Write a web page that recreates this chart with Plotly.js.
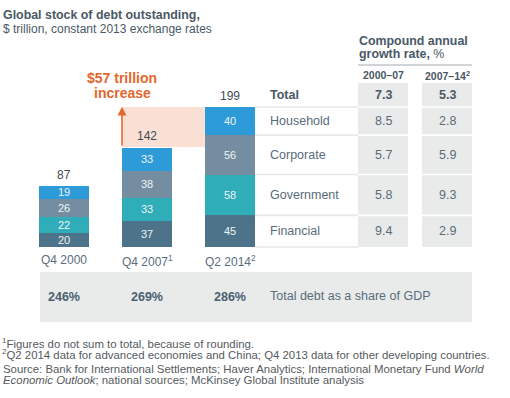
<!DOCTYPE html>
<html>
<head>
<meta charset="utf-8">
<script src="https://cdn.plot.ly/plotly-3.0.1.min.js"></script>
<style>html,body{margin:0;padding:0;background:#fff;}#chart{width:510px;height:398px;}</style>
</head>
<body>
<div id="chart"></div>
<script>
// ---------- DATA ----------
const categories = ['Q4 2000', 'Q4 2007', 'Q2 2014'];
const categoryNotes = ['', '1', '2'];
const financial = [20, 37, 45];
const government = [22, 33, 58];
const corporate = [26, 38, 56];
const household = [19, 33, 40];
const totals = [87, 142, 199];
const gdpShare = [246, 269, 286];
const rowLabels = ['Total', 'Household', 'Corporate', 'Government', 'Financial'];
const cagr2000to07 = [7.3, 8.5, 5.7, 5.8, 9.4];
const cagr2007to14 = [5.3, 2.8, 5.9, 9.3, 2.9];
const periodLabels = ['2000–07', '2007–14<sup>2</sup>'];
const increaseLabel = ['$57 trillion', 'increase'];
const footnotes = [
  '<sup>1</sup>Figures do not sum to total, because of rounding.',
  '<sup>2</sup>Q2 2014 data for advanced economies and China; Q4 2013 data for other developing countries.'
];
const sourceLines = [
  'Source: Bank for International Settlements; Haver Analytics; International Monetary Fund <i>World</i>',
  '<i>Economic Outlook</i>; national sources; McKinsey Global Institute analysis'
];

// ---------- LAYOUT HELPERS ----------
const W = 510, H = 398;
const FONT = 'Liberation Sans, Arial, Helvetica, sans-serif';
const px = x => x / W;
const py = y => 1 - y / H;
const K = 0.7035;           // px per data unit
const BASE = 247;           // pixel row of zero
const CAT0 = 64, CATSTEP = 83;
const BW = 50 / CATSTEP;    // bar width in category units
const yAt = p => (BASE - p) / K;

const series = {Financial: financial, Government: government, Corporate: corporate, Household: household};
const colors = {Household: '#2D9BD7', Corporate: '#748DA0', Government: '#2FADB8', Financial: '#4C7389'};
const stackOrder = ['Financial', 'Government', 'Corporate', 'Household'];

const traces = stackOrder.map(s => ({
  type: 'bar', name: s, x: categories, y: series[s], width: BW,
  marker: {color: colors[s], line: {width: 0}},
  text: series[s].map(String), texttemplate: '%{text}', textposition: 'inside',
  insidetextanchor: 'middle', constraintext: 'none',
  textfont: {family: FONT, size: 11, color: '#eef3f6'},
  hoverinfo: 'skip', showlegend: false
}));

const last = categories.length - 1;
const bounds = [0];
stackOrder.forEach(s => bounds.push(bounds[bounds.length - 1] + series[s][last]));
const mid = {};
stackOrder.forEach((s, i) => { mid[s] = (bounds[i] + bounds[i + 1]) / 2; });
const colTop = yAt(83);
mid['Total'] = (bounds[bounds.length - 1] + colTop) / 2;

const shapes = [];
const annotations = [];
const tx = (x, y, text, opts) => annotations.push(Object.assign({
  x: x, y: y, xref: 'paper', yref: 'paper', text: text, showarrow: false,
  xanchor: 'left', yanchor: 'middle', font: {family: FONT, size: 12, color: '#4a5866'}
}, opts || {}));

// titles
tx(px(1), py(15), '<b>Global stock of debt outstanding,</b>', {font: {family: FONT, size: 12.4, color: '#4a5866'}});
tx(px(1), py(29), '$ trillion, constant 2013 exchange rates', {font: {family: FONT, size: 12, color: '#4a5866'}});

// pink increase band + arrow
const x2left = 1 - BW / 2, x3left = 2 - BW / 2;
shapes.push({type: 'rect', xref: 'x', yref: 'y', x0: x2left, x1: x3left, y0: totals[1], y1: totals[2],
  fillcolor: '#F9DFD4', line: {width: 0}, layer: 'below'});
annotations.push({xref: 'x', yref: 'y', axref: 'x', ayref: 'y', x: x2left, y: totals[2] + 0.5,
  ax: x2left, ay: totals[1], text: '', showarrow: true, arrowhead: 2, arrowsize: 1.1,
  arrowwidth: 1.6, arrowcolor: '#E3672C', standoff: 0, startstandoff: 0});
tx(px(122), py(78), '<b>' + increaseLabel[0] + '</b>', {xanchor: 'center', font: {family: FONT, size: 14, color: '#E3672C'}});
tx(px(122), py(93), '<b>' + increaseLabel[1] + '</b>', {xanchor: 'center', font: {family: FONT, size: 14, color: '#E3672C'}});

// totals above bars and category labels
categories.forEach((c, i) => {
  annotations.push({xref: 'x', yref: 'y', x: i, y: totals[i], yanchor: 'bottom', yshift: 2,
    text: String(totals[i]), showarrow: false, font: {family: FONT, size: 12, color: '#3f4a52'}});
  annotations.push({xref: 'x', yref: 'y', x: i, y: 0, yanchor: 'top', yshift: -4,
    text: c + (categoryNotes[i] ? '<sup>' + categoryNotes[i] + '</sup>' : ''), showarrow: false,
    font: {family: FONT, size: 12, color: '#5a6d7d'}});
});

// table
const col1 = [358, 408], col2 = [422, 472];
[col1, col2].forEach(c => shapes.push({type: 'rect', xref: 'paper', yref: 'y', x0: px(c[0]), x1: px(c[1]),
  y0: 0, y1: colTop, fillcolor: '#E9EBEB', line: {width: 0}, layer: 'below'}));
bounds.forEach(b => {
  shapes.push({type: 'line', xref: 'paper', yref: 'y', x0: px(255), x1: px(358), y0: b, y1: b,
    line: {color: '#E6E8E9', width: 1.6}, layer: 'below'});
  if (b > 0) {
    [col1, col2].forEach(c => shapes.push({type: 'line', xref: 'paper', yref: 'y', x0: px(c[0]), x1: px(c[1]),
      y0: b, y1: b, line: {color: '#ffffff', width: 1.6}, layer: 'below'}));
  }
});
tx(px(357), py(41), '<b>Compound annual</b>', {font: {family: FONT, size: 12.4, color: '#4a5866'}});
tx(px(357), py(54), '<b>growth rate,</b> %', {font: {family: FONT, size: 12.4, color: '#4a5866'}});
shapes.push({type: 'line', xref: 'paper', yref: 'paper', x0: px(358), x1: px(472), y0: py(65), y1: py(65),
  line: {color: '#A3AAB0', width: 1}});
tx(px((col1[0] + col1[1]) / 2), py(75), '<b>' + periodLabels[0] + '</b>', {xanchor: 'center', font: {family: FONT, size: 10.5, color: '#4a5866'}});
tx(px((col2[0] + col2[1]) / 2), py(75), '<b>' + periodLabels[1] + '</b>', {xanchor: 'center', font: {family: FONT, size: 10.5, color: '#4a5866'}});

rowLabels.forEach((r, i) => {
  const bold = r === 'Total';
  const f = (t) => bold ? '<b>' + t + '</b>' : t;
  const col = bold ? '#4a5866' : '#5a6b7a';
  annotations.push({xref: 'paper', yref: 'y', x: px(268), y: mid[r], xanchor: 'left', yanchor: 'middle',
    text: f(r), showarrow: false, font: {family: FONT, size: 12.5, color: col}});
  annotations.push({xref: 'paper', yref: 'y', x: px((col1[0] + col1[1]) / 2), y: mid[r], xanchor: 'center', yanchor: 'middle',
    text: f(cagr2000to07[i].toFixed(1)), showarrow: false, font: {family: FONT, size: 12.5, color: col}});
  annotations.push({xref: 'paper', yref: 'y', x: px((col2[0] + col2[1]) / 2), y: mid[r], xanchor: 'center', yanchor: 'middle',
    text: f(cagr2007to14[i].toFixed(1)), showarrow: false, font: {family: FONT, size: 12.5, color: col}});
});

// GDP band
shapes.push({type: 'rect', xref: 'paper', yref: 'paper', x0: px(40), x1: px(472), y0: py(322), y1: py(272),
  fillcolor: '#E9EBEB', line: {width: 0}, layer: 'below'});
gdpShare.forEach((g, i) => {
  annotations.push({xref: 'x', yref: 'paper', x: i, y: py(297), xanchor: 'center', yanchor: 'middle',
    text: '<b>' + g + '%</b>', showarrow: false, font: {family: FONT, size: 12.5, color: '#4a6070'}});
});
tx(px(268), py(296), 'Total debt as a share of GDP', {font: {family: FONT, size: 12.5, color: '#5a6b7a'}});

// footnotes and source
const FN = {family: FONT, size: 11.4, color: '#555a5e'};
tx(px(0), py(343), footnotes[0], {font: FN});
tx(px(0), py(354), footnotes[1], {font: FN});
tx(px(1), py(369), sourceLines[0], {font: FN});
tx(px(1), py(380), sourceLines[1], {font: FN});

const layout = {
  width: W, height: H, margin: {l: 0, r: 0, t: 0, b: 0, pad: 0},
  paper_bgcolor: '#ffffff', plot_bgcolor: 'rgba(0,0,0,0)',
  barmode: 'stack', showlegend: false,
  xaxis: {type: 'category', range: [-CAT0 / CATSTEP, (W - CAT0) / CATSTEP], visible: false, fixedrange: true},
  yaxis: {range: [-(H - BASE) / K, BASE / K], visible: false, fixedrange: true},
  shapes: shapes, annotations: annotations,
  font: {family: FONT}
};

Plotly.newPlot('chart', traces, layout, {displayModeBar: false, staticPlot: true});
</script>
</body>
</html>
